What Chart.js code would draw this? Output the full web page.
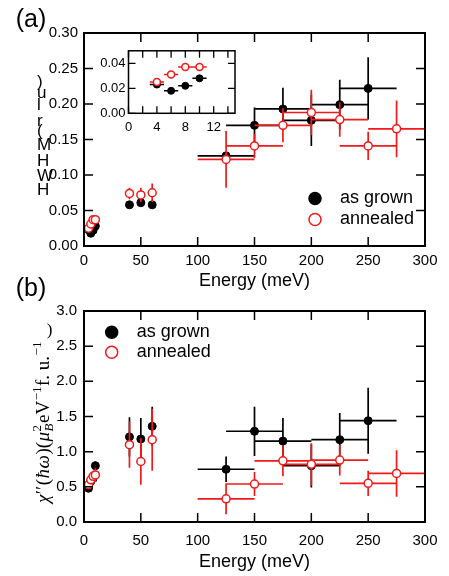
<!DOCTYPE html>
<html><head><meta charset="utf-8">
<script src="https://cdn.jsdelivr.net/npm/chart.js@4"></script>
<style>
html,body{margin:0;padding:0;background:#fff;width:449px;height:576px;overflow:hidden;}
canvas{position:absolute;left:0;}
</style></head><body>
<canvas id="ca" width="449" height="292" style="top:0"></canvas>
<canvas id="cb" width="449" height="306" style="top:270px"></canvas>
<canvas id="ci" width="170" height="100" style="left:80px;top:40px"></canvas>
<script>
// ---------- data ----------
const seriesNames = ['as grown', 'annealed'];
const xTicksMain = [0, 50, 100, 150, 200, 250, 300];
const aYTicks = [0, 0.05, 0.10, 0.15, 0.20, 0.25, 0.30];
const bYTicks = [0, 0.5, 1.0, 1.5, 2.0, 2.5, 3.0];
const insetXTicks = [0, 4, 8, 12];
const insetYTicks = [0, 0.02, 0.04];

// panel (a): HWHM
const aGrownE   = [4, 6, 8, 10, 40, 50, 60, 125, 150, 175, 200, 225, 250];
const aGrownW   = [0.023, 0.018, 0.022, 0.028, 0.058, 0.061, 0.058, 0.127, 0.170, 0.193, 0.177, 0.199, 0.222];
const aGrownEx  = [1, 1, 1, 1, 3, 3, 3, 25, 25, 25, 25, 25, 25];
const aGrownWy  = [0.001, 0.001, 0.001, 0.001, 0.003, 0.004, 0.003, 0.005, 0.025, 0.030, 0.036, 0.035, 0.044];
const aAnnE     = [4, 6, 8, 10, 40, 50, 60, 125, 150, 175, 200, 225, 250, 275];
const aAnnW     = [0.025, 0.031, 0.037, 0.037, 0.074, 0.072, 0.075, 0.122, 0.141, 0.170, 0.188, 0.178, 0.141, 0.165];
const aAnnEx    = [1, 1, 1, 1, 3, 3, 3, 25, 25, 25, 25, 25, 25, 25];
const aAnnWy    = [0.001, 0.001, 0.001, 0.001, 0.008, 0.010, 0.013, 0.040, 0.017, 0.024, 0.032, 0.024, 0.020, 0.040];

// panel (b): chi''
const bGrownE   = [4, 6, 8, 10, 40, 50, 60, 125, 150, 175, 200, 225, 250];
const bGrownC   = [0.48, 0.58, 0.62, 0.80, 1.21, 1.18, 1.36, 0.75, 1.29, 1.15, 0.80, 1.17, 1.44];
const bGrownEx  = [1, 1, 1, 1, 3, 3, 3, 25, 25, 25, 25, 25, 25];
const bGrownCy  = [0.03, 0.04, 0.05, 0.06, 0.28, 0.30, 0.28, 0.18, 0.35, 0.33, 0.31, 0.38, 0.47];
const bAnnE     = [4, 6, 8, 10, 40, 50, 60, 125, 150, 175, 200, 225, 250, 275];
const bAnnC     = [0.53, 0.60, 0.65, 0.67, 1.10, 0.86, 1.17, 0.33, 0.54, 0.87, 0.82, 0.88, 0.55, 0.69];
const bAnnEx    = [1, 1, 1, 1, 3, 3, 3, 25, 25, 25, 25, 25, 25, 25];
const bAnnCy    = [0.03, 0.05, 0.08, 0.10, 0.33, 0.33, 0.44, 0.22, 0.17, 0.22, 0.30, 0.22, 0.18, 0.33];

// ---------- styling ----------
const SANS = "'Liberation Sans', Arial, Helvetica, sans-serif";
const SERIF = "'Liberation Serif', 'DejaVu Serif', serif";
const BLACK = '#000';
const RED = '#f01a1a';

function pts(E, V, maxE) {
  const out = [];
  E.forEach((e, i) => { if (maxE === undefined || e <= maxE) out.push({x: e, y: V[i]}); });
  return out;
}
function datasets(gE, gV, gEx, gVy, nE, nV, nEx, nVy, r, maxE) {
  return [
    {label: seriesNames[1], data: pts(nE, nV, maxE), errX: nEx, errY: nVy, pointRadius: r,
     pointBackgroundColor: '#fff', pointBorderColor: RED, pointBorderWidth: 1.5, borderColor: RED, showLine: false},
    {label: seriesNames[0], data: pts(gE, gV, maxE), errX: gEx, errY: gVy, pointRadius: r,
     pointBackgroundColor: BLACK, pointBorderColor: BLACK, pointBorderWidth: 1, borderColor: BLACK, showLine: false}
  ];
}

const errPlugin = {
  id: 'errbars',
  beforeDatasetDraw(chart, args) {
    const ds = chart.data.datasets[args.index];
    const {ctx, chartArea: ca, scales: {x, y}} = chart;
    const lw = (chart.options.plugins.frame && chart.options.plugins.frame.errLw) || 1.7;
    ctx.save();
    ctx.beginPath(); ctx.rect(ca.left, ca.top, ca.right - ca.left, ca.bottom - ca.top); ctx.clip();
    ctx.strokeStyle = ds.borderColor; ctx.lineWidth = lw;
    ctx.beginPath();
    ds.data.forEach((p, i) => {
      const ex = ds.errX[i], ey = ds.errY[i];
      const px = x.getPixelForValue(p.x), py = y.getPixelForValue(p.y);
      ctx.moveTo(x.getPixelForValue(p.x - ex), py); ctx.lineTo(x.getPixelForValue(p.x + ex), py);
      ctx.moveTo(px, y.getPixelForValue(p.y - ey)); ctx.lineTo(px, y.getPixelForValue(p.y + ey));
    });
    ctx.stroke();
    ctx.restore();
  }
};

const framePlugin = {
  id: 'frame',
  beforeDraw(chart, args, opts) {
    if (opts.fill) {
      const {ctx, chartArea: ca} = chart;
      ctx.save(); ctx.fillStyle = '#fff';
      ctx.fillRect(ca.left, ca.top, ca.right - ca.left, ca.bottom - ca.top); ctx.restore();
    }
  },
  afterDatasetsDraw(chart, args, opts) {
    const {ctx, chartArea: ca, scales: {x, y}} = chart;
    const L = opts.tickLen || 9;
    ctx.save();
    ctx.strokeStyle = '#000';
    ctx.lineWidth = opts.tickLw || 1.5;
    ctx.beginPath();
    (opts.xTicks || x.ticks.map(t => t.value)).forEach(v => {
      const p = x.getPixelForValue(v);
      ctx.moveTo(p, ca.bottom); ctx.lineTo(p, ca.bottom - L);
      ctx.moveTo(p, ca.top); ctx.lineTo(p, ca.top + L);
    });
    (opts.yTicks || y.ticks.map(t => t.value)).forEach(v => {
      const p = y.getPixelForValue(v);
      ctx.moveTo(ca.left, p); ctx.lineTo(ca.left + L, p);
      ctx.moveTo(ca.right, p); ctx.lineTo(ca.right - L, p);
    });
    ctx.stroke();
    ctx.lineWidth = opts.lw || 2;
    ctx.strokeRect(ca.left, ca.top, ca.right - ca.left, ca.bottom - ca.top);
    ctx.restore();
  }
};

function drawLegend(ctx, mx, y0, dy, tx) {
  const styles = [{fill: BLACK, stroke: BLACK}, {fill: '#fff', stroke: RED}];
  ctx.save();
  seriesNames.forEach((name, i) => {
    const yy = y0 + i * dy;
    ctx.beginPath(); ctx.arc(mx, yy, 6, 0, Math.PI * 2);
    ctx.fillStyle = styles[i].fill; ctx.fill();
    ctx.lineWidth = 1.5; ctx.strokeStyle = styles[i].stroke; ctx.stroke();
    ctx.fillStyle = '#000'; ctx.font = '18px ' + SANS;
    ctx.textAlign = 'left'; ctx.textBaseline = 'middle';
    ctx.fillText(name, tx, yy);
  });
  ctx.restore();
}

function tickFont(size) { return {family: SANS, size: size}; }

function mainConfig(ds, yTicks, yFmt, pad, xH, xTickPad, titlePadB, yTickPad, extraDraw) {
  return {
    type: 'scatter',
    data: {datasets: ds},
    options: {
      responsive: false, animation: false, devicePixelRatio: 1,
      layout: {padding: {left: 0, right: 24, top: pad, bottom: 0}},
      plugins: {legend: {display: false}, tooltip: {enabled: false}, frame: {tickLen: 9}},
      scales: {
        x: {
          type: 'linear', min: 0, max: 300,
          border: {display: false}, grid: {display: false, drawTicks: false},
          afterBuildTicks: s => { s.ticks = xTicksMain.map(v => ({value: v})); },
          ticks: {padding: xTickPad, font: tickFont(15), color: '#000', maxRotation: 0, autoSkip: false},
          title: {display: true, text: 'Energy (meV)', font: {family: SANS, size: 18}, color: '#000', padding: {top: 0, bottom: titlePadB}},
          afterFit: s => { s.height = xH; }
        },
        y: {
          type: 'linear', min: yTicks[0], max: yTicks[yTicks.length - 1],
          border: {display: false}, grid: {display: false, drawTicks: false},
          afterBuildTicks: s => { s.ticks = yTicks.map(v => ({value: v})); },
          ticks: {padding: yTickPad, font: tickFont(15), color: '#000', callback: v => Number(v).toFixed(yFmt)},
          afterFit: s => { s.width = 84; }
        }
      }
    },
    plugins: [errPlugin, framePlugin, {id: 'extra', afterDraw: extraDraw}]
  };
}

// ---------- panel (a) ----------
new Chart(document.getElementById('ca'), mainConfig(
  datasets(aGrownE, aGrownW, aGrownEx, aGrownWy, aAnnE, aAnnW, aAnnEx, aAnnWy, 4),
  aYTicks, 2, 33, 46, 6, 0, 6,
  chart => {
    const ctx = chart.ctx;
    ctx.save();
    ctx.fillStyle = '#000';
    ctx.font = '25px ' + SANS; ctx.textAlign = 'center'; ctx.textBaseline = 'middle';
    ctx.fillText('(a)', 31, 20);
    // stacked axis label characters, as in the reference
    ctx.font = '17px ' + SANS; ctx.textAlign = 'left';
    [[')', 82], ['u', 93.5], ['l', 105], ['r', 121], ['(', 131], ['M', 145.5], ['H', 161], ['W', 176.5], ['H', 190]]
      .forEach(c => ctx.fillText(c[0], 37, c[1]));
    ctx.restore();
    drawLegend(ctx, 315, 198.5, 21, 340);
  }
));

// ---------- panel (b) ----------
new Chart(document.getElementById('cb'), mainConfig(
  datasets(bGrownE, bGrownC, bGrownEx, bGrownCy, bAnnE, bAnnC, bAnnEx, bAnnCy, 4),
  bYTicks, 1, 41, 54, 10, 3.5, 7,
  chart => {
    const ctx = chart.ctx;
    ctx.save();
    ctx.fillStyle = '#000';
    ctx.font = '25px ' + SANS; ctx.textAlign = 'center'; ctx.textBaseline = 'middle';
    ctx.fillText('(b)', 31, 19);
    // rotated y-axis title
    ctx.save();
    ctx.translate(49, 233);
    ctx.rotate(-Math.PI / 2);
    ctx.textAlign = 'left'; ctx.textBaseline = 'alphabetic';
    const S = 19, s = 13;
    const segs = [
      ['χ', 'italic', S, 0], ['′′', '', S, 0], ['(', '', S, 0], ['ħ', 'italic', S, 0], ['ω', 'italic', S, 0],
      [')(', '', S, 0], ['μ', 'italic', S, 0], ['B', 'italic', s, 4, '2', -8], ['eV', '', S, 0],
      ['−1', '', s, -8], ['f. u.', '', S, 0], ['−1', '', s, -8]
    ];
    let x = 0;
    segs.forEach(g => {
      ctx.font = (g[1] ? g[1] + ' ' : '') + g[2] + 'px ' + SERIF;
      ctx.fillText(g[0], x, g[3]);
      let w = ctx.measureText(g[0]).width;
      if (g[4]) { ctx.font = g[2] + 'px ' + SERIF; ctx.fillText(g[4], x, g[5]); w = Math.max(w, ctx.measureText(g[4]).width); }
      x += w + 0.5;
    });
    ctx.restore();
    ctx.font = '17px ' + SERIF; ctx.textAlign = 'center'; ctx.textBaseline = 'middle';
    ctx.fillText(')', 49.5, 61);
    ctx.restore();
    drawLegend(ctx, 111.7, 62.3, 20, 136.7);
  }
));

// ---------- inset ----------
new Chart(document.getElementById('ci'), {
  type: 'scatter',
  data: {datasets: datasets(aGrownE, aGrownW, aGrownEx, aGrownWy, aAnnE, aAnnW, aAnnEx, aAnnWy, 3.5, 15)},
  options: {
    responsive: false, animation: false, devicePixelRatio: 1,
    layout: {padding: {left: 0, right: 15, top: 10.7, bottom: 0}},
    plugins: {legend: {display: false}, tooltip: {enabled: false},
      frame: {fill: true, tickLen: 7, lw: 1.5, tickLw: 1.3, errLw: 1.5, xTicks: [0, 2, 4, 6, 8, 10, 12, 14], yTicks: insetYTicks}},
    scales: {
      x: {
        type: 'linear', min: 0, max: 15,
        border: {display: false}, grid: {display: false, drawTicks: false},
        afterBuildTicks: s => { s.ticks = insetXTicks.map(v => ({value: v})); },
        ticks: {padding: 6, font: tickFont(13), color: '#000', maxRotation: 0, autoSkip: false},
        afterFit: s => { s.height = 26.7; }
      },
      y: {
        type: 'linear', min: 0, max: 0.05,
        border: {display: false}, grid: {display: false, drawTicks: false},
        afterBuildTicks: s => { s.ticks = insetYTicks.map(v => ({value: v})); },
        ticks: {padding: 3, font: tickFont(13), color: '#000', callback: v => Number(v).toFixed(2)},
        afterFit: s => { s.width = 48.5; }
      }
    }
  },
  plugins: [errPlugin, framePlugin]
});
</script></body></html>
